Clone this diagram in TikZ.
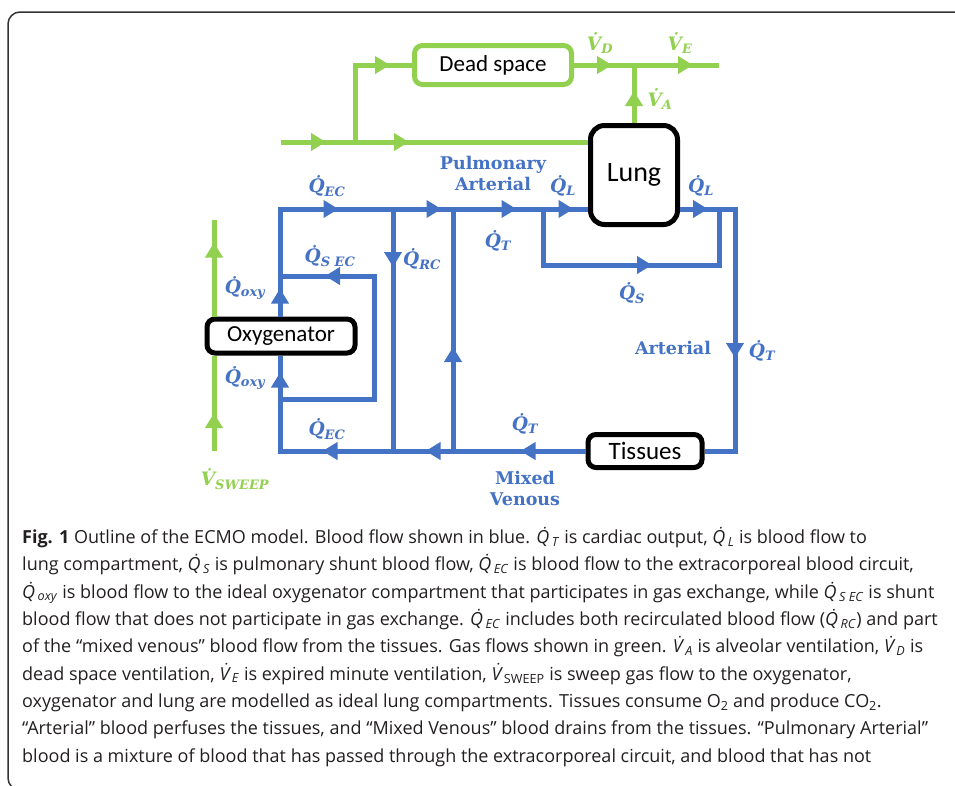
\RequirePackage{fix-cm}
\documentclass[tikz,border=0pt]{standalone}
\usepackage{fontspec}
\usepackage{xcolor}
\usetikzlibrary{arrows.meta,positioning,decorations.markings}

\setmainfont{Open Sans}
\newfontfamily\boxfont{Carlito}
\newfontfamily\slabfont{DejaVu Serif}

\definecolor{bloodblue}{HTML}{4472C4}
\definecolor{gasgreen}{HTML}{92D050}
\definecolor{captext}{HTML}{231F20}

\newcommand{\qf}[1]{\.{Q}\textsubscript{#1}}
\newcommand{\vf}[1]{\.{V}\textsubscript{#1}}
\newcommand{\cq}[2]{\textit{\.{#1}}\textsubscript{\textit{#2}}}

\begin{document}
\begin{tikzpicture}[
        x=1pt, y=-1pt,
        every node/.style={inner sep=0pt},
        organ/.style  ={draw=black, line width=5pt, fill=white, rounded corners=8pt,
                        font=\boxfont\fontsize{23}{26}\selectfont},
        deadbox/.style={organ, draw=gasgreen},
        blood/.style  ={draw=bloodblue, line width=5pt},
        gas/.style    ={draw=gasgreen, line width=5pt},
        flowat/.style ={postaction={decorate, decoration={markings,
                        mark=at position #1pt with {\arrow{Triangle[length=15pt,width=17pt]}}}}},
        qlab/.style   ={text=bloodblue, font=\slabfont\bfseries\itshape\fontsize{18.5}{22}\selectfont},
        vlab/.style   ={qlab, text=gasgreen},
        site/.style   ={text=bloodblue, align=center, font=\slabfont\bfseries\fontsize{17.5}{21}\selectfont},
        frame/.style  ={draw=black!80, line width=1.5pt, rounded corners=12pt},
    ]
        \useasboundingbox (0,0) rectangle (955,785);
        \draw[frame] (40,790) -- (8,790) -- (8,12) -- (990,12);

        % --- Compartments ---
        \node[deadbox, minimum width=157pt, minimum height=39pt] (dead) at (493,65) {Dead space};
        \node[organ, minimum width=87pt, minimum height=99pt, rounded corners=14pt,
              font=\boxfont\fontsize{28}{30}\selectfont] (lung) at (634,175) {Lung};
        \node[organ, minimum width=148pt, minimum height=34pt] (oxy) at (281,336) {Oxygenator};
        \node[organ, minimum width=114pt, minimum height=33pt,
              font=\boxfont\fontsize{25}{28}\selectfont] (tis) at (645,451) {Tissues};

        % --- Junctions ---
        \coordinate (ectop) at (280,209);
        \coordinate (ecbot) at (280,451);
        \coordinate (rctop) at (393,209);
        \coordinate (rcbot) at (393,451);
        \coordinate (patop) at (453,209);
        \coordinate (pabot) at (453,451);
        \coordinate (shl)   at (543,209);
        \coordinate (shlb)  at (543,265);
        \coordinate (shrb)  at (719,265);
        \coordinate (shr)   at (719,209);
        \coordinate (artop) at (735,209);
        \coordinate (arbot) at (735,451);
        \coordinate (oxl)   at (280,276);
        \coordinate (oxtr)  at (374,276);
        \coordinate (oxbr)  at (374,399);
        \coordinate (oxb)   at (280,399);
        \coordinate (gin)   at (281,142);
        \coordinate (gsplit) at (355,142);
        \coordinate (gout)  at (719,65);
        \coordinate (swbot) at (214,451);
        \coordinate (swtop) at (214,220);

        % --- Blood (blue) ---
        \draw[blood, flowat=28, flowat=166, flowat=269, flowat=344, flowat=401]
            (oxy.north -| ectop) -- (ectop) -- (ectop -| lung.west);
        \draw[blood, flowat=28, flowat=204]
            (ectop -| lung.east) -- (artop) -- (arbot) -- (tis.east);
        \draw[blood, flowat=65, flowat=160, flowat=263, flowat=384]
            (tis.west) -- (ecbot) -- (oxy.south -| ecbot);
        \draw[blood, flowat=58] (rctop) -- (rcbot);
        \draw[blood, flowat=104] (pabot) -- (patop);
        \draw[blood, flowat=165] (shl) -- (shlb) -- (shrb) -- (shr);
        \draw[blood, flowat=266] (oxb) -- (oxbr) -- (oxtr) -- (oxl);

        % --- Gas (green) ---
        \draw[gas, flowat=45, flowat=128] (gin) -- (gin -| lung.west);
        \draw[gas, flowat=112] (gsplit) |- (dead.west);
        \draw[gas, flowat=38, flowat=119] (dead.east) -- (gout);
        \draw[gas, flowat=32] (lung.north) -- (lung.north |- gout);
        \draw[gas, flowat=38] (swbot) -- (oxy.south -| swbot);
        \draw[gas, flowat=74] (oxy.north -| swtop) -- (swtop);

        % --- Flow labels ---
        \node[qlab] (qectop) at (327,186) {\qf{EC}};
        \node[qlab] (qlin)   at (563,186) {\qf{L}};
        \node[qlab] (qlout)  at (701,186) {\qf{L}};
        \node[qlab] (qttop)  at (498,241) {\qf{T}};
        \node[qlab] (qsec)   at (330,256) {\qf{S EC}};
        \node[qlab] (qrc)    at (422,259) {\qf{RC}};
        \node[qlab] (qs)     at (632,293) {\qf{S}};
        \node[qlab] (qoxyt)  at (245,288) {\qf{oxy}};
        \node[qlab] (qoxyb)  at (245,378) {\qf{oxy}};
        \node[qlab] (qtart)  at (762,351) {\qf{T}};
        \node[qlab] (qtbot)  at (525,424) {\qf{T}};
        \node[qlab] (qecbot) at (327,429) {\qf{EC}};
        \node[vlab] (vd)     at (600,43)  {\vf{D}};
        \node[vlab] (ve)     at (680,43)  {\vf{E}};
        \node[vlab] (va)     at (660,99)  {\vf{A}};
        \node[vlab] (vsw)    at (235,479) {\vf{SWEEP}};

        % --- Site labels ---
        \node[site] (pulart) at (493,173) {Pulmonary\\Arterial};
        \node[site] (art)    at (673,348) {Arterial};
        \node[site] (mixven) at (525,488) {Mixed\\Venous};

        % --- Caption ---
        \node[anchor=north west, align=left, text=captext,
              font=\fontsize{18}{27.3}\selectfont] (cap) at (22,527)
            {\textbf{Fig. 1} Outline of the ECMO model. Blood flow shown in blue. \cq{Q}{T} is cardiac output, \cq{Q}{L} is blood flow to\\
             lung compartment, \cq{Q}{S} is pulmonary shunt blood flow, \cq{Q}{EC} is blood flow to the extracorporeal blood circuit,\\
             \cq{Q}{oxy} is blood flow to the ideal oxygenator compartment that participates in gas exchange, while \cq{Q}{S EC} is shunt\\
             blood flow that does not participate in gas exchange. \cq{Q}{EC} includes both recirculated blood flow (\cq{Q}{RC}) and part\\
             of the “mixed venous” blood flow from the tissues. Gas flows shown in green. \cq{V}{A} is alveolar ventilation, \cq{V}{D} is\\
             dead space ventilation, \cq{V}{E} is expired minute ventilation, \textit{\.{V}}\textsubscript{SWEEP} is sweep gas flow to the oxygenator,\\
             oxygenator and lung are modelled as ideal lung compartments. Tissues consume O\textsubscript{2} and produce CO\textsubscript{2}.\\
             “Arterial” blood perfuses the tissues, and “Mixed Venous” blood drains from the tissues. “Pulmonary Arterial”\\
             blood is a mixture of blood that has passed through the extracorporeal circuit, and blood that has not};
    \end{tikzpicture}
\end{document}
